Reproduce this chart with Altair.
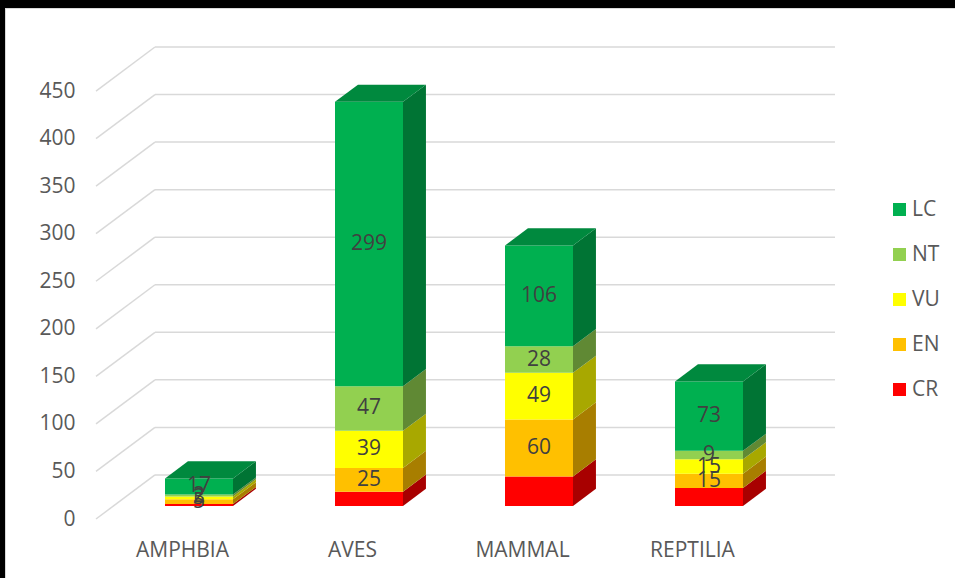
import json
import altair as alt
import pandas as pd

# ---- data ----
categories = ["AMPHBIA", "AVES", "MAMMAL", "REPTILIA"]
statuses = ["CR", "EN", "VU", "NT", "LC"]          # stacking order, bottom -> top
cr = [2, 15, 31, 19]
en = [5, 25, 60, 15]
vu = [3, 39, 49, 15]
nt = [2, 47, 28, 9]
lc = [17, 299, 106, 73]
y_ticks = [0, 50, 100, 150, 200, 250, 300, 350, 400, 450]
legend_order = ["LC", "NT", "VU", "EN", "CR"]
base_colors = {"LC": "#00B050", "NT": "#92D050", "VU": "#FFFF00", "EN": "#FFC000", "CR": "#FF0000"}

series = {"CR": cr, "EN": en, "VU": vu, "NT": nt, "LC": lc}

# ---- 3D projection style constants ----
F_Y = 13.7      # bar front plane offset (data units, vertical)
F_X = 0.10      # bar front plane offset (category units, horizontal)
BW = 0.40       # bar width
DX, DY = 0.135, 18.0   # bar depth projection
BK_Y = 46.3     # back wall offset
BK_X0, BK_X1 = -0.159, 3.841
XMIN, XMAX = -0.50588, 4.547
YMAX = 524.7


def shade(hex_color, f):
    h = hex_color.lstrip("#")
    r, g, b = (int(h[i:i + 2], 16) for i in (0, 2, 4))
    return "#%02x%02x%02x" % (int(r * f), int(g * f), int(b * f))


front_rows, side_rows, top_rows = [], [], []
for i, cat in enumerate(categories):
    base = 0
    xl = i + F_X - BW / 2
    xr = i + F_X + BW / 2
    for s in statuses:
        v = series[s][i]
        y0, y1 = base + F_Y, base + v + F_Y
        front_rows.append(dict(cat=cat, status=s, value=v, xl=xl, xr=xr, y0=y0, y1=y1,
                               ymid=(y0 + y1) / 2, xc=i + F_X, lab=(s != "CR")))
        seg = f"{cat}-{s}"
        fill = shade(base_colors[s], 0.66)
        side_rows.append(dict(seg=seg, x=xr, lo=y0, hi=y1, fill=fill))
        side_rows.append(dict(seg=seg, x=xr + DX, lo=y0 + DY, hi=y1 + DY, fill=fill))
        base += v
    top = base + F_Y
    tfill = shade(base_colors["LC"], 0.78)
    top_rows += [
        dict(seg=cat, x=xl, lo=top, hi=top, fill=tfill),
        dict(seg=cat, x=xl + DX, lo=top, hi=top + DY, fill=tfill),
        dict(seg=cat, x=xr, lo=top, hi=top + DY, fill=tfill),
        dict(seg=cat, x=xr + DX, lo=top + DY, hi=top + DY, fill=tfill),
    ]

front = pd.DataFrame(front_rows)
side = pd.DataFrame(side_rows)
topf = pd.DataFrame(top_rows)
grid = pd.DataFrame(dict(v=y_ticks, vb=[t + BK_Y for t in y_ticks],
                         x0=XMIN, xb=BK_X0, x1=BK_X1))

FONT = "Open Sans"
X_SCALE = alt.Scale(domain=[XMIN, XMAX], nice=False, zero=False)
Y_SCALE = alt.Scale(domain=[0, YMAX], nice=False, zero=False)
label_expr = json.dumps(categories) + "[datum.value]"
X_AXIS = alt.Axis(values=[0, 1, 2, 3], labelExpr=label_expr, title=None, grid=False,
                  domain=False, ticks=False, labelPadding=20, labelFontSize=21,
                  labelColor="#595959", labelFont=FONT)
Y_AXIS = alt.Axis(values=y_ticks, title=None, grid=False, domain=False, ticks=False,
                  labelPadding=21, labelFontSize=21, labelColor="#595959", labelFont=FONT)

diag = alt.Chart(grid).mark_rule(color="#d9d9d9", strokeWidth=1.5).encode(
    x=alt.X("x0:Q", scale=X_SCALE, axis=X_AXIS), x2="xb:Q",
    y=alt.Y("v:Q", scale=Y_SCALE, axis=Y_AXIS), y2="vb:Q")
horiz = alt.Chart(grid).mark_rule(color="#d9d9d9", strokeWidth=1.5).encode(
    x=alt.X("xb:Q", scale=X_SCALE, axis=X_AXIS), x2="x1:Q",
    y=alt.Y("vb:Q", scale=Y_SCALE, axis=Y_AXIS))

bars = alt.Chart(front).mark_rect().encode(
    x=alt.X("xl:Q", scale=X_SCALE, axis=X_AXIS), x2="xr:Q",
    y=alt.Y("y0:Q", scale=Y_SCALE, axis=Y_AXIS), y2="y1:Q",
    color=alt.Color("status:N",
                    scale=alt.Scale(domain=legend_order,
                                    range=[base_colors[s] for s in legend_order]),
                    legend=alt.Legend(title=None, orient="none", legendX=793, legendY=179,
                                      symbolType="square", symbolSize=169,
                                      symbolStrokeWidth=0, labelFontSize=21,
                                      labelColor="#595959", labelFont=FONT,
                                      labelOffset=2, rowPadding=23)))

sides = alt.Chart(side).mark_area(orient="vertical").encode(
    x=alt.X("x:Q", scale=X_SCALE, axis=X_AXIS),
    y=alt.Y("lo:Q", scale=Y_SCALE, axis=Y_AXIS, stack=None), y2="hi:Q",
    detail="seg:N", color=alt.Color("fill:N", scale=None))

tops = alt.Chart(topf).mark_area(orient="vertical").encode(
    x=alt.X("x:Q", scale=X_SCALE, axis=X_AXIS),
    y=alt.Y("lo:Q", scale=Y_SCALE, axis=Y_AXIS, stack=None), y2="hi:Q",
    detail="seg:N", color=alt.Color("fill:N", scale=None))

labels = alt.Chart(front).transform_filter("datum.lab").mark_text(
    fontSize=21, font=FONT, color="#404040", baseline="middle", align="center").encode(
    x=alt.X("xc:Q", scale=X_SCALE, axis=X_AXIS),
    y=alt.Y("ymid:Q", scale=Y_SCALE, axis=Y_AXIS),
    text="value:Q")

border_top = alt.Chart(grid).mark_rect(color="black").encode(
    x=alt.value(-96), x2=alt.value(859), y=alt.value(-20), y2=alt.value(-12))
border_left = alt.Chart(grid).mark_rect(color="black").encode(
    x=alt.value(-96), x2=alt.value(-91), y=alt.value(-20), y2=alt.value(59 + 499))
inner_top = alt.Chart(grid).mark_rule(color="#d9d9d9", strokeWidth=1).encode(
    x=alt.value(-91), x2=alt.value(859), y=alt.value(-11.5))
inner_left = alt.Chart(grid).mark_rule(color="#d9d9d9", strokeWidth=1).encode(
    x=alt.value(-90.5), y=alt.value(-12), y2=alt.value(558))

chart = alt.layer(diag, horiz, bars, sides, tops, labels,
                  border_top, border_left, inner_top, inner_left).properties(
    width=859, height=499, background="white",
    padding={"left": 96, "top": 20, "right": 0, "bottom": 59},
    autosize=alt.AutoSizeParams(type="none"),
).configure_view(stroke=None)

chart.save("out.html", embed_options={"renderer": "svg", "actions": False})
